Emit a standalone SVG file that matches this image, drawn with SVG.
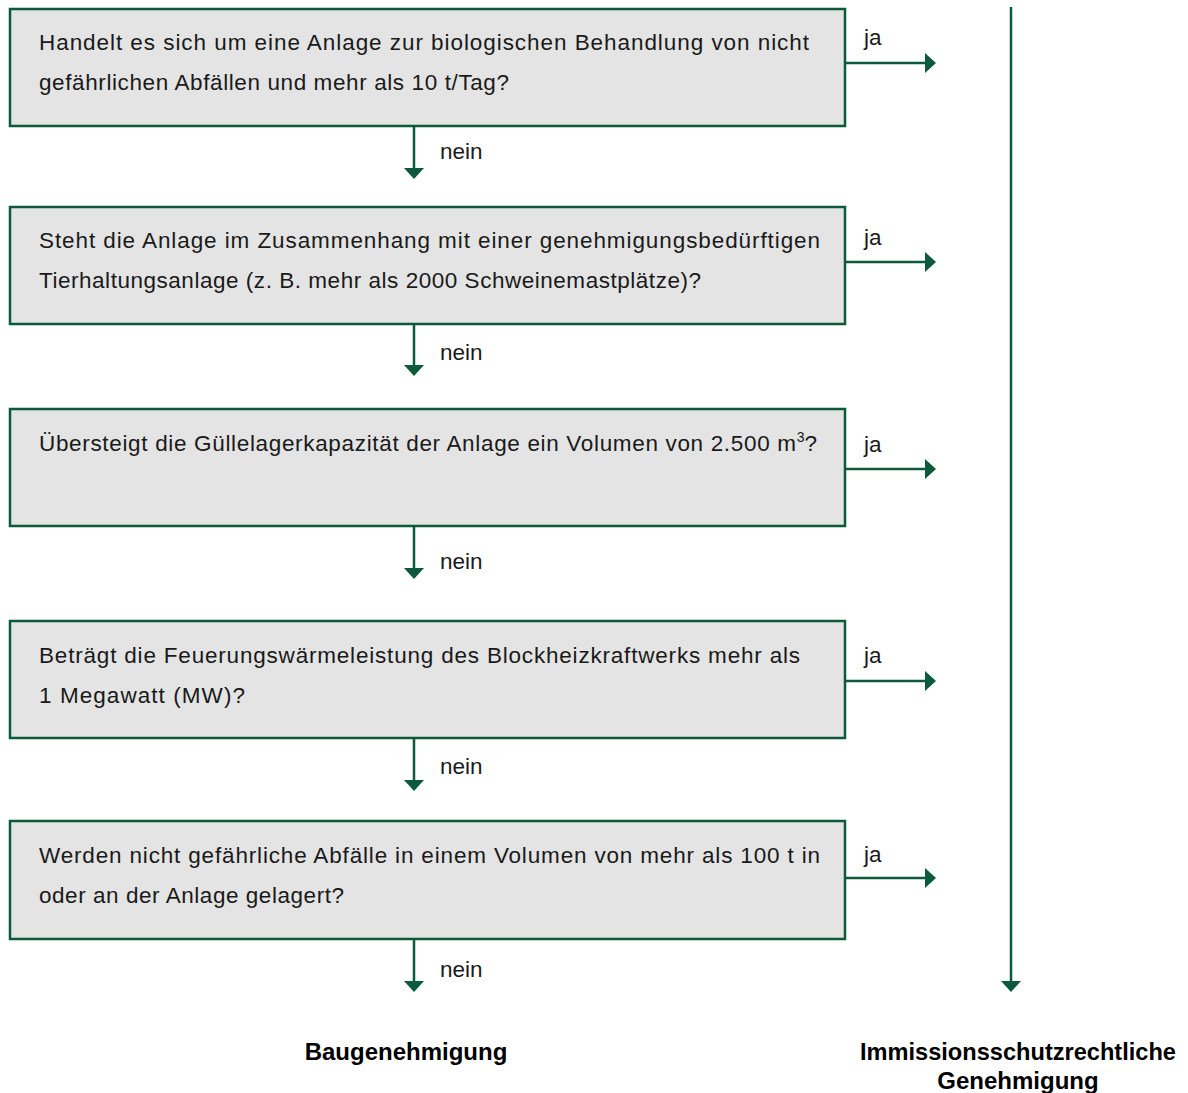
<svg xmlns="http://www.w3.org/2000/svg" width="1188" height="1093" viewBox="0 0 1188 1093">
<style>
.box{fill:#e3e4e3;stroke:#0b5a3b;stroke-width:2.5}
.q{font-family:"Liberation Sans",Arial,sans-serif;font-size:22.5px;fill:#1a1a1a}
.lbl{font-family:"Liberation Sans",Arial,sans-serif;font-size:22.5px;fill:#1a1a1a}
.res{font-family:"Liberation Sans",Arial,sans-serif;font-size:24px;font-weight:bold;fill:#000;text-anchor:middle}
.c{stroke:#0b5a3b;stroke-width:2.5;fill:none}
.h{fill:#0b5a3b}
</style>
<g id="q1">
<rect class="box" x="10" y="9" width="835" height="117"/>
<text class="q" x="39" y="50" textLength="770" lengthAdjust="spacing">Handelt es sich um eine Anlage zur biologischen Behandlung von nicht</text>
<text class="q" x="39" y="90" textLength="470" lengthAdjust="spacing">gefährlichen Abfällen und mehr als 10 t/Tag?</text>
</g>
<g id="q2">
<rect class="box" x="10" y="207" width="835" height="117"/>
<text class="q" x="39" y="248" textLength="781" lengthAdjust="spacing">Steht die Anlage im Zusammenhang mit einer genehmigungsbedürftigen</text>
<text class="q" x="39" y="288" textLength="662" lengthAdjust="spacing">Tierhaltungsanlage (z. B. mehr als 2000 Schweinemastplätze)?</text>
</g>
<g id="q3">
<rect class="box" x="10" y="409" width="835" height="117"/>
<text class="q" x="39" y="451"><tspan textLength="757" lengthAdjust="spacing">Übersteigt die Güllelagerkapazität der Anlage ein Volumen von 2.500 m</tspan><tspan font-size="14" dy="-9">3</tspan><tspan dy="9">?</tspan></text>
</g>
<g id="q4">
<rect class="box" x="10" y="621" width="835" height="117"/>
<text class="q" x="39" y="663" textLength="761" lengthAdjust="spacing">Beträgt die Feuerungswärmeleistung des Blockheizkraftwerks mehr als</text>
<text class="q" x="39" y="703" textLength="206" lengthAdjust="spacing">1 Megawatt (MW)?</text>
</g>
<g id="q5">
<rect class="box" x="10" y="821" width="835" height="118"/>
<text class="q" x="39" y="863" textLength="781" lengthAdjust="spacing">Werden nicht gefährliche Abfälle in einem Volumen von mehr als 100 t in</text>
<text class="q" x="39" y="903" textLength="305" lengthAdjust="spacing">oder an der Anlage gelagert?</text>
</g>
<g id="r1">
<text class="res" x="406" y="1060">Baugenehmigung</text>
</g>
<g id="r2">
<text class="res" x="1018" y="1060" textLength="316" lengthAdjust="spacingAndGlyphs">Immissionsschutzrechtliche</text>
<text class="res" x="1018" y="1089">Genehmigung</text>
</g>
<g id="connectors">
<line class="c" x1="414" y1="126" x2="414" y2="169"/>
<polygon class="h" points="404,168 424,168 414,179"/>
<line class="c" x1="414" y1="324" x2="414" y2="366"/>
<polygon class="h" points="404,365 424,365 414,376"/>
<line class="c" x1="414" y1="526" x2="414" y2="569"/>
<polygon class="h" points="404,568 424,568 414,579"/>
<line class="c" x1="414" y1="738" x2="414" y2="781"/>
<polygon class="h" points="404,780 424,780 414,791"/>
<line class="c" x1="414" y1="939" x2="414" y2="982"/>
<polygon class="h" points="404,981 424,981 414,992"/>
<line class="c" x1="845" y1="63" x2="927" y2="63"/>
<polygon class="h" points="925,53 925,73 936,63"/>
<line class="c" x1="845" y1="262" x2="927" y2="262"/>
<polygon class="h" points="925,252 925,272 936,262"/>
<line class="c" x1="845" y1="469" x2="927" y2="469"/>
<polygon class="h" points="925,459 925,479 936,469"/>
<line class="c" x1="845" y1="681" x2="927" y2="681"/>
<polygon class="h" points="925,671 925,691 936,681"/>
<line class="c" x1="845" y1="878" x2="927" y2="878"/>
<polygon class="h" points="925,868 925,888 936,878"/>
<line class="c" x1="1011" y1="7" x2="1011" y2="982"/>
<polygon class="h" points="1001,981 1021,981 1011,992"/>
<text class="lbl" x="440" y="159">nein</text>
<text class="lbl" x="440" y="360">nein</text>
<text class="lbl" x="440" y="569">nein</text>
<text class="lbl" x="440" y="774">nein</text>
<text class="lbl" x="440" y="977">nein</text>
<text class="lbl" x="864" y="45">ja</text>
<text class="lbl" x="864" y="245">ja</text>
<text class="lbl" x="864" y="452">ja</text>
<text class="lbl" x="864" y="663">ja</text>
<text class="lbl" x="864" y="862">ja</text>
</g>
</svg>
